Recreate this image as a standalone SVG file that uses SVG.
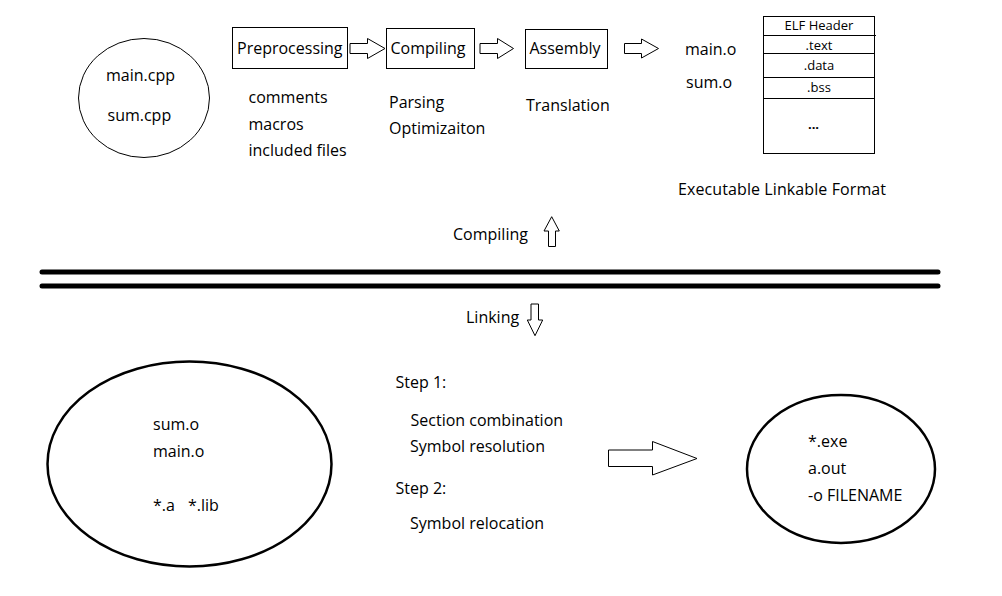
<svg xmlns="http://www.w3.org/2000/svg" width="1002" height="596" viewBox="0 0 1002 596">
<style>
text{font-family:"Open Sans","Noto Sans","Liberation Sans",sans-serif;font-size:16px;fill:#000}
.sm{font-size:13px;text-anchor:middle}
.box{fill:#fff;stroke:#000;stroke-width:1}
.arr{fill:#fff;stroke:#000;stroke-width:1;stroke-linejoin:miter}
.sep{stroke:#000;stroke-width:5;stroke-linecap:round}
</style>
<rect width="1002" height="596" fill="#fff"/>
<g id="sources">
<ellipse cx="144" cy="98" rx="65.5" ry="59.5" fill="#fff" stroke="#000" stroke-width="1"/>
<text x="106" y="81">main.cpp</text>
<text x="107.5" y="121">sum.cpp</text>
</g>
<g id="preprocessing">
<rect class="box" x="232.5" y="27.5" width="115" height="41"/>
<text x="237" y="54">Preprocessing</text>
<text x="248.5" y="103">comments</text>
<text x="248.5" y="129.5">macros</text>
<text x="248.5" y="156">included files</text>
</g>
<g id="compiling">
<rect class="box" x="386.5" y="28.5" width="88" height="40"/>
<text x="390.5" y="54">Compiling</text>
<text x="389" y="108">Parsing</text>
<text x="389" y="134">Optimizaiton</text>
</g>
<g id="assembly">
<rect class="box" x="525.5" y="29.5" width="82" height="39"/>
<text x="529.5" y="54">Assembly</text>
<text x="526" y="111">Translation</text>
</g>
<g id="objects">
<text x="685" y="54.5">main.o</text>
<text x="686" y="88">sum.o</text>
</g>
<g id="elf">
<rect class="box" x="763.5" y="16.5" width="111" height="137"/>
<line x1="763.5" y1="35.5" x2="876" y2="35.5" stroke="#000"/>
<line x1="763.5" y1="53.5" x2="874.5" y2="53.5" stroke="#000"/>
<line x1="763.5" y1="77.5" x2="874.5" y2="77.5" stroke="#000"/>
<line x1="763.5" y1="98.5" x2="874.5" y2="98.5" stroke="#000"/>
<text class="sm" x="819" y="30">ELF Header</text>
<text class="sm" x="819" y="49.5">.text</text>
<text class="sm" x="819" y="70">.data</text>
<text class="sm" x="819" y="91.5">.bss</text>
<text class="sm" x="813.5" y="129" font-weight="bold" font-size="16">...</text>
<text x="678" y="195" textLength="208">Executable Linkable Format</text>
</g>
<g id="phase-labels">
<text x="453" y="240">Compiling</text>
<text x="466" y="323">Linking</text>
</g>
<g id="inputs">
<ellipse cx="189.5" cy="464" rx="142" ry="102.5" fill="none" stroke="#000" stroke-width="2.5"/>
<text x="153" y="430">sum.o</text>
<text x="153" y="457">main.o</text>
<text x="153" y="511">*.a</text>
<text x="188" y="511">*.lib</text>
</g>
<g id="steps">
<text x="395.5" y="387.5">Step 1:</text>
<text x="410.5" y="426">Section combination</text>
<text x="410" y="452">Symbol resolution</text>
<text x="395.5" y="494">Step 2:</text>
<text x="410" y="528.5">Symbol relocation</text>
</g>
<g id="outputs">
<ellipse cx="841" cy="469" rx="94" ry="74" fill="none" stroke="#000" stroke-width="2.5"/>
<text x="808" y="447">*.exe</text>
<text x="808" y="473.5">a.out</text>
<text x="808" y="501">-o FILENAME</text>
</g>
<g id="connectors">
<polygon class="arr" points="350,43.5 367.5,43.5 367.5,38.5 385,48.5 367.5,58.5 367.5,53.5 350,53.5"/>
<polygon class="arr" points="480,43.5 497.5,43.5 497.5,38.5 513.5,48.5 497.5,58.5 497.5,53.5 480,53.5"/>
<polygon class="arr" points="624.5,43.5 641.5,43.5 641.5,39 658.5,48.5 641.5,58 641.5,53.5 624.5,53.5"/>
<polygon class="arr" points="548.5,246.5 548.5,231 544,231 551.7,216.7 559.3,231 555.5,231 555.5,246.5"/>
<polygon class="arr" points="531,304 538.5,304 538.5,320 542.7,320 535,335.7 527.3,320 531,320"/>
<polygon class="arr" points="608.5,450 652.5,450 652.5,441.5 697,458.5 652.5,475 652.5,466.5 608.5,466.5"/>
<line class="sep" x1="42" y1="272" x2="938" y2="272"/>
<line class="sep" x1="42" y1="286" x2="938" y2="286"/>
</g>
</svg>
